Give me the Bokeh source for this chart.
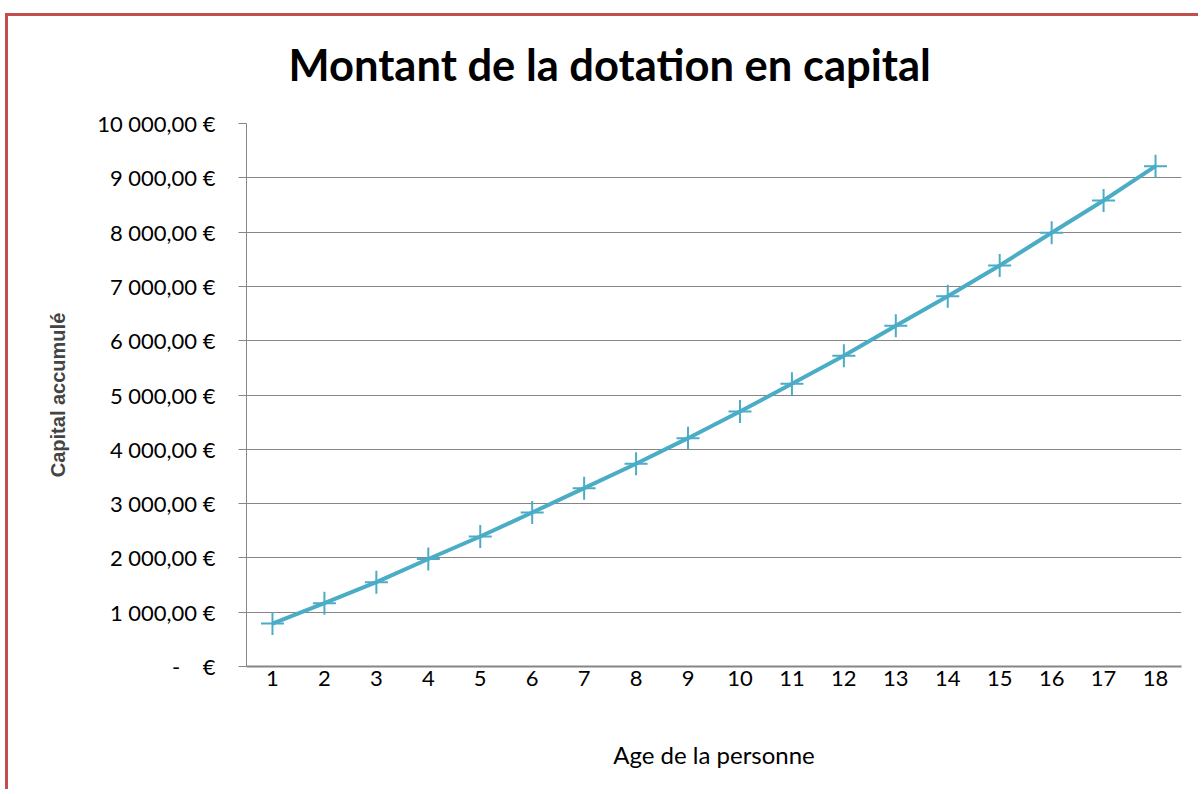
from bokeh.plotting import figure
from bokeh.models import FactorRange, Range1d, FixedTicker, Title
from bokeh.embed import file_html
from bokeh.resources import INLINE

# ---- data ----
ages = [str(i) for i in range(1, 19)]
capital = [790, 1166, 1553, 1980, 2394, 2836, 3284, 3733, 4205, 4696,
           5206, 5722, 6274, 6820, 7385, 7987, 8582, 9214]
y_ticks = [0, 1000, 2000, 3000, 4000, 5000, 6000, 7000, 8000, 9000, 10000]
y_tick_labels = ["-\u00a0\u00a0\u00a0\u00a0€", "1\u00a0000,00 €", "2\u00a0000,00 €", "3\u00a0000,00 €",
                 "4\u00a0000,00 €", "5\u00a0000,00 €", "6\u00a0000,00 €", "7\u00a0000,00 €",
                 "8\u00a0000,00 €", "9\u00a0000,00 €", "10\u00a0000,00 €"]
title_text = "Montant de la dotation en capital"
x_title = "Age de la personne"
y_title = "Capital accumulé"

LINE = "#4BACC6"
GRID = "#868686"
FRAME_RED = "#C0504D"

p = figure(width=1193, height=776, output_backend="svg", toolbar_location=None,
           x_range=FactorRange(*ages, range_padding=0), y_range=Range1d(0, 10000),
           min_border_left=238, min_border_right=20, min_border_top=107, min_border_bottom=126)
# chart-area red frame (only top and left edges are visible in the reference)
p.styles = {"border-left": f"3px solid {FRAME_RED}", "border-top": f"3px solid {FRAME_RED}",
            "margin-left": "5px", "margin-top": "13px"}

# real chart title (outermost panel)
p.title.text = title_text
p.title.text_font = "Lato"
p.title.text_font_style = "bold"
p.title.text_font_size = "43.5px"
p.title.align = "left"
p.title.offset = 42
p.title.standoff = 10
p.title.text_color = "black"

# blank (white) spacer between the frame and the title
p.add_layout(Title(text="M", text_color="white", text_font_size="16px", standoff=10), "above")

p.outline_line_color = None
p.background_fill_color = "white"
p.border_fill_color = "white"

p.line(x=ages, y=capital, line_color=LINE, line_width=4)
p.scatter(x=ages, y=capital, marker="cross", size=23, line_color=LINE, line_width=2)

# y axis
p.yaxis.ticker = FixedTicker(ticks=y_ticks)
p.yaxis.major_label_overrides = {t: l for t, l in zip(y_ticks, y_tick_labels)}
p.yaxis.major_tick_out = 8
p.yaxis.major_tick_in = 0
p.yaxis.minor_tick_line_color = None
p.yaxis.axis_line_color = GRID
p.yaxis.major_tick_line_color = GRID
p.yaxis.major_label_text_font = "Lato"
p.yaxis.major_label_text_font_size = "22px"
p.yaxis.major_label_text_color = "black"
p.yaxis.major_label_standoff = 23
p.yaxis.axis_label = y_title
p.yaxis.axis_label_text_font = "Liberation Sans"
p.yaxis.axis_label_text_font_style = "bold"
p.yaxis.axis_label_text_font_size = "20px"
p.yaxis.axis_label_standoff = 25

# x axis
p.xaxis.major_tick_out = 0
p.xaxis.major_tick_in = 0
p.xaxis.axis_line_color = GRID
p.xaxis.axis_line_width = 2
p.xaxis.major_label_text_font = "Lato"
p.xaxis.major_label_text_font_size = "22px"
p.xaxis.major_label_text_color = "black"
p.xaxis.major_label_standoff = 4
p.xaxis.axis_label = x_title
p.xaxis.axis_label_text_font = "Lato"
p.xaxis.axis_label_text_font_style = "normal"
p.xaxis.axis_label_text_font_size = "24px"
p.xaxis.axis_label_text_color = "black"
p.xaxis.axis_label_standoff = 51

p.xgrid.grid_line_color = None
p.ygrid.grid_line_color = GRID
p.ygrid.grid_line_width = 1

open("out.html", "w").write(file_html(p, INLINE))
